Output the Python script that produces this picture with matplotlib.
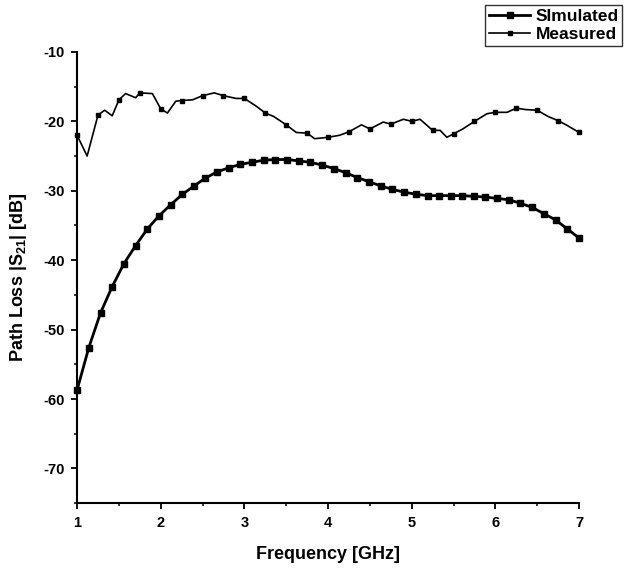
import numpy as np
import matplotlib
matplotlib.use('Agg')
import matplotlib.pyplot as plt
from matplotlib.ticker import MultipleLocator

plt.rcParams['font.family'] = ['Liberation Sans', 'DejaVu Sans']
plt.rcParams['font.weight'] = 'bold'
plt.rcParams['axes.labelweight'] = 'bold'
plt.rcParams['axes.unicode_minus'] = False
plt.rcParams['mathtext.fontset'] = 'custom'
plt.rcParams['mathtext.rm'] = 'Liberation Sans:bold'
plt.rcParams['mathtext.bf'] = 'Liberation Sans:bold'
plt.rcParams['mathtext.default'] = 'bf'

# simulated curve (GHz, dB)
sim_f = [1.00, 1.14, 1.28, 1.42, 1.56, 1.70, 1.84, 1.98, 2.12, 2.26, 2.40,
         2.53, 2.67, 2.81, 2.95, 3.09, 3.23, 3.37, 3.51, 3.65, 3.79, 3.93,
         4.07, 4.21, 4.35, 4.49, 4.63, 4.77, 4.91, 5.05, 5.19, 5.33, 5.47,
         5.60, 5.74, 5.88, 6.02, 6.16, 6.30, 6.44, 6.58, 6.72, 6.86, 7.00]
sim_db = [-58.7, -52.6, -47.6, -43.8, -40.5, -37.9, -35.5, -33.6, -32.0, -30.5, -29.3,
          -28.2, -27.3, -26.7, -26.2, -25.9, -25.6, -25.5, -25.5, -25.7, -25.9, -26.3,
          -26.8, -27.4, -28.1, -28.7, -29.3, -29.8, -30.2, -30.5, -30.7, -30.7, -30.7,
          -30.7, -30.8, -30.9, -31.1, -31.3, -31.8, -32.4, -33.3, -34.2, -35.5, -36.8]

# measured curve
meas_f = [1.00, 1.12, 1.25, 1.33, 1.42, 1.50, 1.58, 1.70, 1.75, 1.90, 2.00,
          2.08, 2.18, 2.25, 2.38, 2.50, 2.64, 2.75, 2.90, 3.00, 3.14, 3.25,
          3.35, 3.50, 3.62, 3.75, 3.84, 4.00, 4.14, 4.25, 4.40, 4.50, 4.66,
          4.75, 4.90, 5.00, 5.10, 5.25, 5.34, 5.42, 5.50, 5.61, 5.75, 5.90,
          6.00, 6.14, 6.25, 6.36, 6.50, 6.63, 6.75, 6.86, 7.00]
meas_db = [-22.0, -25.0, -19.1, -18.4, -19.2, -16.9, -16.0, -16.6, -15.9, -16.0, -18.2,
           -18.8, -17.1, -17.0, -16.9, -16.3, -15.9, -16.3, -16.7, -16.7, -17.8, -18.8,
           -19.3, -20.5, -21.6, -21.7, -22.5, -22.3, -22.0, -21.5, -20.5, -21.1, -20.1,
           -20.4, -19.7, -20.0, -19.7, -21.3, -21.3, -22.3, -21.8, -21.1, -20.0, -18.9,
           -18.7, -18.7, -18.1, -18.3, -18.4, -19.3, -19.9, -20.6, -21.6]
meas_marks = [i for i, f in enumerate(meas_f) if abs(f * 4 - round(f * 4)) < 1e-6]

fig = plt.figure(figsize=(6.37, 5.77), dpi=100)
ax = fig.add_axes([0.121, 0.128, 0.788, 0.782])

ax.plot(sim_f, sim_db, color='black', lw=2.0, marker='s', ms=3.8,
        label='SImulated', clip_on=False, zorder=3)
ax.plot(meas_f, meas_db, color='black', lw=1.2, marker='s', ms=2.8,
        markevery=meas_marks, label='Measured', clip_on=False, zorder=3)

ax.set_xlim(1, 7)
ax.set_ylim(-75, -10)
ax.xaxis.set_major_locator(MultipleLocator(1))
ax.xaxis.set_minor_locator(MultipleLocator(0.5))
ax.yaxis.set_major_locator(MultipleLocator(10))
ax.yaxis.set_minor_locator(MultipleLocator(5))
ax.spines['top'].set_visible(False)
ax.spines['right'].set_visible(False)
ax.spines['left'].set_linewidth(1.5)
ax.spines['bottom'].set_linewidth(1.5)
ax.tick_params(which='major', direction='out', length=4, width=1.3, labelsize=10.5, pad=5)
ax.tick_params(which='minor', direction='out', length=2.5, width=1.1)

ax.set_xlabel('Frequency [GHz]', fontsize=13, labelpad=12)
ax.set_ylabel('Path Loss |S$_{21}$| [dB]', fontsize=13, labelpad=10)

leg = fig.legend(loc='upper right', bbox_to_anchor=(0.985, 1.0), fontsize=12.5,
                 frameon=True, fancybox=False, handlelength=2.4,
                 borderpad=0.2, labelspacing=0.2, handletextpad=0.3,
                 borderaxespad=0.3)
leg.get_frame().set_edgecolor('black')
leg.get_frame().set_linewidth(1.0)

fig.savefig('out.png', dpi=100)
